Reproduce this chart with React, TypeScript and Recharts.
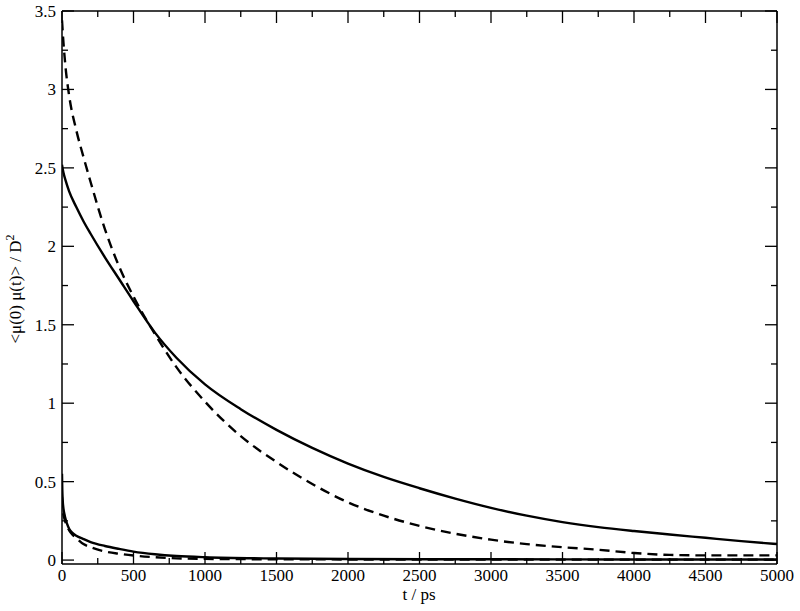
import React from 'react';
import { LineChart, Line, XAxis, YAxis } from 'recharts';

// upper pair of curves (solid / dashed)
const upperTime = [0, 10, 25, 50, 100, 150, 200, 300, 400, 500, 650, 800, 1000, 1250, 1500, 1750, 2000, 2250, 2500, 2750, 3000, 3250, 3500, 3750, 4000, 4250, 4500, 4750, 5000];
const upperSolid = [2.52, 2.47, 2.42, 2.35, 2.25, 2.16, 2.08, 1.93, 1.79, 1.65, 1.45, 1.29, 1.12, 0.962, 0.83, 0.715, 0.615, 0.53, 0.458, 0.392, 0.333, 0.283, 0.242, 0.21, 0.185, 0.163, 0.142, 0.121, 0.102];
const upperDashed = [3.44, 3.3, 3.14, 2.96, 2.74, 2.57, 2.41, 2.11, 1.87, 1.68, 1.44, 1.23, 1.01, 0.79, 0.625, 0.485, 0.368, 0.283, 0.218, 0.168, 0.13, 0.102, 0.082, 0.066, 0.045, 0.033, 0.03, 0.03, 0.03];

// lower pair, fast decay near t = 0
const lowerTime = [0, 2, 5, 10, 20, 35, 50, 75, 100, 150, 200, 300, 400, 500, 650, 800, 1000, 1500, 2000, 3000, 4000, 5000];
const lowerSolid = [0.55, 0.45, 0.38, 0.33, 0.28, 0.232, 0.2, 0.172, 0.155, 0.134, 0.115, 0.09, 0.071, 0.054, 0.037, 0.026, 0.018, 0.01, 0.007, 0.005, 0.004, 0.004];
const lowerDashed = [0.4, 0.36, 0.32, 0.29, 0.255, 0.215, 0.19, 0.16, 0.14, 0.102, 0.082, 0.055, 0.04, 0.029, 0.018, 0.011, 0.008, 0.005, 0.004, 0.003, 0.003, 0.003];

const xTicks = [0, 250, 500, 750, 1000, 1250, 1500, 1750, 2000, 2250, 2500, 2750, 3000, 3250, 3500, 3750, 4000, 4250, 4500, 4750, 5000];
const yTicks = [0, 0.25, 0.5, 0.75, 1, 1.25, 1.5, 1.75, 2, 2.25, 2.5, 2.75, 3, 3.25, 3.5];

const toRows = (t: number[], v: number[]) => t.map((x, i) => ({ t: x, v: v[i] }));

const FONT = 'Liberation Serif, DejaVu Serif, serif';
const txt = { fontFamily: FONT, fontSize: 17, fill: '#000' };
const MAJOR = 12;
const MINOR = 6;

const isMajorX = (v: number) => v % 500 === 0;
const isMajorY = (v: number) => Math.abs(v * 2 - Math.round(v * 2)) < 1e-6;

function BottomTick(p: any) {
  const major = isMajorX(p.payload.value);
  return (
    <g>
      <line x1={p.x} y1={p.y} x2={p.x} y2={p.y - (major ? MAJOR : MINOR)} stroke="#000" strokeWidth={1.3} />
      {major && (
        <text x={p.x} y={p.y + 17} textAnchor="middle" style={txt}>
          {p.payload.value}
        </text>
      )}
    </g>
  );
}

function TopTick(p: any) {
  const major = isMajorX(p.payload.value);
  return <line x1={p.x} y1={p.y} x2={p.x} y2={p.y + (major ? MAJOR : MINOR)} stroke="#000" strokeWidth={1.3} />;
}

function LeftTick(p: any) {
  const major = isMajorY(p.payload.value);
  return (
    <g>
      <line x1={p.x} y1={p.y} x2={p.x + (major ? MAJOR : MINOR)} y2={p.y} stroke="#000" strokeWidth={1.3} />
      {major && (
        <text x={p.x - 6} y={p.y + 6} textAnchor="end" style={txt}>
          {p.payload.value}
        </text>
      )}
    </g>
  );
}

function RightTick(p: any) {
  const major = isMajorY(p.payload.value);
  return <line x1={p.x} y1={p.y} x2={p.x - (major ? MAJOR : MINOR)} y2={p.y} stroke="#000" strokeWidth={1.3} />;
}

const axisLine = { stroke: '#000', strokeWidth: 1.5 };

export default function App() {
  return (
    <div style={{ position: 'absolute', left: 0, top: 0, width: 800, height: 611, background: '#fff' }}>
      <LineChart width={800} height={611} margin={{ top: 10, right: 22, bottom: 0, left: 0 }}>
        <XAxis xAxisId="b" dataKey="t" type="number" domain={[0, 5000]} ticks={xTicks} interval={0}
          height={47} tickSize={0} tickMargin={0} tickLine={false} axisLine={axisLine} tick={(p: any) => <BottomTick {...p} />} allowDataOverflow />
        <XAxis xAxisId="top" orientation="top" dataKey="t" type="number" domain={[0, 5000]} ticks={xTicks} interval={0}
          height={1} tickSize={0} tickMargin={0} tickLine={false} axisLine={axisLine} tick={(p: any) => <TopTick {...p} />} allowDataOverflow />
        <YAxis yAxisId="l" type="number" domain={[-0.025, 3.5]} ticks={yTicks} interval={0}
          width={62} tickSize={0} tickMargin={0} tickLine={false} axisLine={axisLine} tick={(p: any) => <LeftTick {...p} />} allowDataOverflow />
        <YAxis yAxisId="r" orientation="right" type="number" domain={[-0.025, 3.5]} ticks={yTicks} interval={0}
          width={1} tickSize={0} tickMargin={0} tickLine={false} axisLine={axisLine} tick={(p: any) => <RightTick {...p} />} allowDataOverflow />

        <Line xAxisId="b" yAxisId="l" data={toRows(upperTime, upperSolid)} dataKey="v" type="monotone" stroke="#000" strokeWidth={2.4} dot={false} isAnimationActive={false} />
        <Line xAxisId="b" yAxisId="l" data={toRows(upperTime, upperDashed)} dataKey="v" type="monotone" stroke="#000" strokeWidth={2.4} strokeDasharray="10 6" dot={false} isAnimationActive={false} />
        <Line xAxisId="b" yAxisId="l" data={toRows(lowerTime, lowerSolid)} dataKey="v" type="monotone" stroke="#000" strokeWidth={2.4} dot={false} isAnimationActive={false} />
        <Line xAxisId="b" yAxisId="l" data={toRows(lowerTime, lowerDashed)} dataKey="v" type="monotone" stroke="#000" strokeWidth={2.4} strokeDasharray="10 6" dot={false} isAnimationActive={false} />
      </LineChart>
      <svg width={800} height={611} style={{ position: 'absolute', left: 0, top: 0, pointerEvents: 'none' }}>
        <text x={419} y={600} textAnchor="middle" style={txt}>t / ps</text>
        <text transform="translate(21,289) rotate(-90)" textAnchor="middle" style={txt}>
          {'<μ(0) μ(t)> / D'}
          <tspan dy={-7} fontSize={12}>2</tspan>
        </text>
      </svg>
    </div>
  );
}
